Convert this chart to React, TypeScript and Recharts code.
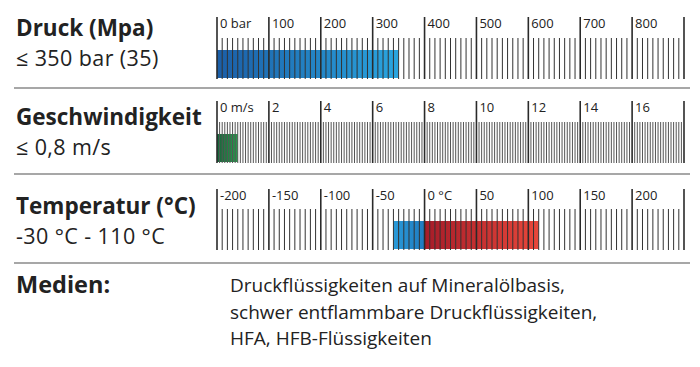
import { BarChart, Bar, XAxis, YAxis } from "recharts";

// Druck
const pressureMajors = [0, 100, 200, 300, 400, 500, 600, 700, 800, 900];
const pressureLabels = ["0 bar", "100", "200", "300", "400", "500", "600", "700", "800", ""];
const pressureData = [{ name: "Druck", value: 350 }];

// Geschwindigkeit
const speedMajors = [0, 2, 4, 6, 8, 10, 12, 14, 16, 18];
const speedLabels = ["0 m/s", "2", "4", "6", "8", "10", "12", "14", "16", ""];
const speedData = [{ name: "Geschwindigkeit", value: 0.8 }];

// Temperatur
const tempMajors = [-200, -150, -100, -50, 0, 50, 100, 150, 200, 250];
const tempLabels = ["-200", "-150", "-100", "-50", "0 °C", "50", "100", "150", "200", ""];
const tempData = [{ name: "Temperatur", cold: -30, warm: 110 }];

const mediaLines = [
  "Druckflüssigkeiten auf Mineralölbasis,",
  "schwer entflammbare Druckflüssigkeiten,",
  "HFA, HFB-Flüssigkeiten",
];

const FONT = "'Open Sans', 'Noto Sans', sans-serif";

function buildTicks(majors: number[], step: number) {
  const min = majors[0];
  const max = majors[majors.length - 1];
  const n = Math.round((max - min) / step);
  const out: number[] = [];
  for (let i = 0; i <= n; i++) out.push(Math.round((min + i * step) * 1000) / 1000);
  return out;
}

interface GaugeProps {
  id: string;
  data: any[];
  majors: number[];
  labels: string[];
  step: number;
  majorTop: number;
  minorTop: number;
  barTop: number;
  barBottom: number;
  labelY: number;
  minorColor: string;
  children: React.ReactNode;
  stackOffset?: "sign" | "none";
}

function Gauge(p: GaugeProps) {
  const ticks = buildTicks(p.majors, p.step);
  const renderTick = (props: any) => {
    const v = props.payload.value;
    const idx = p.majors.findIndex((m) => Math.abs(m - v) < 1e-6);
    const x = props.x;
    if (idx >= 0) {
      return (
        <g>
          <line x1={x} x2={x} y1={p.majorTop} y2={p.barBottom} stroke="#2a2a2a" strokeWidth={1.6} />
          <text x={x + 3} y={p.labelY} fontSize={13} fontFamily={FONT} fill="#222">
            {p.labels[idx]}
          </text>
        </g>
      );
    }
    return <line x1={x} x2={x} y1={p.minorTop} y2={p.barBottom} stroke={p.minorColor} strokeWidth={1} />;
  };
  return (
    <div style={{ position: "absolute", left: 0, top: 0 }}>
      <BarChart
        width={700}
        height={p.barBottom + 4}
        data={p.data}
        layout="vertical"
        stackOffset={p.stackOffset || "none"}
        barCategoryGap={0}
        margin={{ top: p.barTop, right: 16, bottom: 3, left: 217 }}
      >
        <defs>
          <linearGradient id={`${p.id}-blue`} x1="0" y1="0" x2="1" y2="0">
            <stop offset="0%" stopColor="#1b5ea7" />
            <stop offset="100%" stopColor="#2aa5df" />
          </linearGradient>
          <linearGradient id={`${p.id}-green`} x1="0" y1="0" x2="1" y2="0">
            <stop offset="0%" stopColor="#17663a" />
            <stop offset="100%" stopColor="#279a4c" />
          </linearGradient>
          <linearGradient id={`${p.id}-cold`} x1="0" y1="0" x2="1" y2="0">
            <stop offset="0%" stopColor="#2a9ad8" />
            <stop offset="100%" stopColor="#1f7bc0" />
          </linearGradient>
          <linearGradient id={`${p.id}-warm`} x1="0" y1="0" x2="1" y2="0">
            <stop offset="0%" stopColor="#a61c29" />
            <stop offset="100%" stopColor="#e8473a" />
          </linearGradient>
        </defs>
        <YAxis type="category" dataKey="name" hide />
        {p.children}
        <XAxis
          type="number"
          domain={[p.majors[0], p.majors[p.majors.length - 1]]}
          ticks={ticks}
          interval={0}
          height={1}
          tickSize={0}
          tickMargin={0}
          axisLine={false}
          tickLine={false}
          tick={renderTick}
          allowDataOverflow
        />
      </BarChart>
    </div>
  );
}

export default function App() {
  const h: React.CSSProperties = { fontFamily: FONT };
  return (
    <div style={{ position: "absolute", left: 0, top: 0, width: 700, height: 367, background: "#fff" }}>
      <Gauge
        id="p"
        data={pressureData}
        majors={pressureMajors}
        labels={pressureLabels}
        step={10}
        majorTop={17}
        minorTop={38}
        barTop={48}
        barBottom={79}
        labelY={28}
        minorColor="#333"
      >
        <Bar dataKey="value" fill="url(#p-blue)" barSize={31} isAnimationActive={false} />
      </Gauge>
      <Gauge
        id="s"
        data={speedData}
        majors={speedMajors}
        labels={speedLabels}
        step={0.1}
        majorTop={101}
        minorTop={122}
        barTop={132}
        barBottom={163}
        labelY={112}
        minorColor="#555"
      >
        <Bar dataKey="value" fill="url(#s-green)" barSize={31} isAnimationActive={false} />
      </Gauge>
      <Gauge
        id="t"
        data={tempData}
        majors={tempMajors}
        labels={tempLabels}
        step={5}
        majorTop={189}
        minorTop={209}
        barTop={219}
        barBottom={250}
        labelY={200}
        minorColor="#333"
        stackOffset="sign"
      >
        <Bar dataKey="cold" stackId="t" fill="url(#t-cold)" barSize={31} isAnimationActive={false} />
        <Bar dataKey="warm" stackId="t" fill="url(#t-warm)" barSize={31} isAnimationActive={false} />
      </Gauge>
      <svg width={700} height={367} style={{ position: "absolute", left: 0, top: 0, ...h }}>
        <line x1={14} x2={690} y1={88} y2={88} stroke="#8a8a8a" strokeWidth={1.5} />
        <line x1={14} x2={690} y1={174} y2={174} stroke="#8a8a8a" strokeWidth={1.5} />
        <line x1={14} x2={690} y1={263} y2={263} stroke="#8a8a8a" strokeWidth={1.5} />
        <text x={16} y={36} fontSize={22.5} fontWeight={700} fill="#222">Druck (Mpa)</text>
        <text x={16} y={66} fontSize={21.5} letterSpacing={0.4} fill="#222">≤ 350 bar (35)</text>
        <text x={16} y={125} fontSize={22.5} fontWeight={700} fill="#222">Geschwindigkeit</text>
        <text x={16} y={155} fontSize={21.5} letterSpacing={0.4} fill="#222">≤ 0,8 m/s</text>
        <text x={16} y={214} fontSize={22.5} fontWeight={700} fill="#222">Temperatur (°C)</text>
        <text x={16} y={244} fontSize={21.5} letterSpacing={0.4} fill="#222">-30 °C - 110 °C</text>
        <text x={16} y={293} fontSize={23.5} fontWeight={700} fill="#222">Medien:</text>
        {mediaLines.map((t, i) => (
          <text key={i} x={230} y={292 + i * 26.5} fontSize={19} fill="#222">
            {t}
          </text>
        ))}
      </svg>
    </div>
  );
}
